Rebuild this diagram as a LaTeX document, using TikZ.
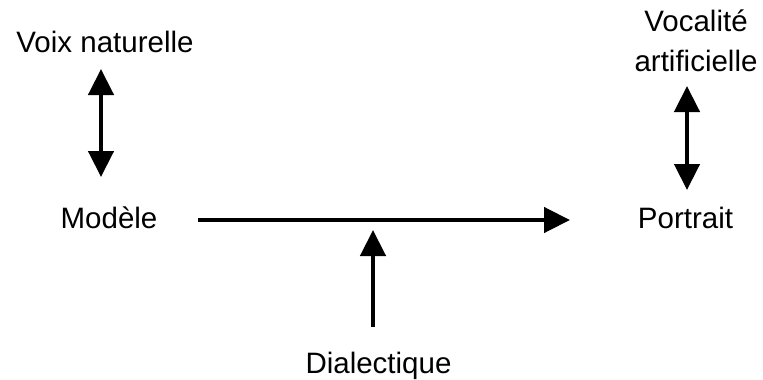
\documentclass[tikz,border=0pt]{standalone}
\usepackage{fontspec}
\setmainfont{Liberation Sans}
\usetikzlibrary{arrows.meta}
\begin{document}
\begin{tikzpicture}[x=1pt,y=-1pt,
  lbl/.style={inner sep=0pt, font=\fontsize{29.5}{40}\selectfont, align=center},
  conn/.style={line width=4.5pt},
  dn/.style={-{Triangle[length=26pt,width=25pt]}},
  both/.style={{Triangle[length=26pt,width=25pt,sep=4pt]}-{Triangle[length=26pt,width=25pt]}}]
\useasboundingbox (0,0) rectangle (763,380);
\node[lbl, anchor=base] (voix) at (105,52) {Voix naturelle};
\node[lbl, anchor=base] (modele) at (109,228) {Modèle};
\node[lbl, anchor=base] (portrait) at (685.5,228) {Portrait};
\node[lbl, anchor=south] (vocal) at (696,72) {Vocalité\\artificielle};
\node[lbl, anchor=base] (dial) at (378.5,373) {Dialectique};
\coordinate (mid) at (373,220);
\draw[conn, both, shorten <=13pt, shorten >=51pt] ([xshift=-4pt]voix.base) -- ([xshift=-8pt]modele.base);
\draw[conn, both, shorten <=10pt, shorten >=38pt] ([xshift=-9pt]vocal.south) -- ([xshift=1.5pt]portrait.base);
\draw[conn, dn, shorten <=89pt, shorten >=115.5pt] ([yshift=8pt]modele.base) -- ([yshift=8pt]portrait.base);
\draw[conn, dn, shorten <=46pt, shorten >=10pt] ([xshift=-5.5pt]dial.base) -- (mid);
\end{tikzpicture}
\end{document}
